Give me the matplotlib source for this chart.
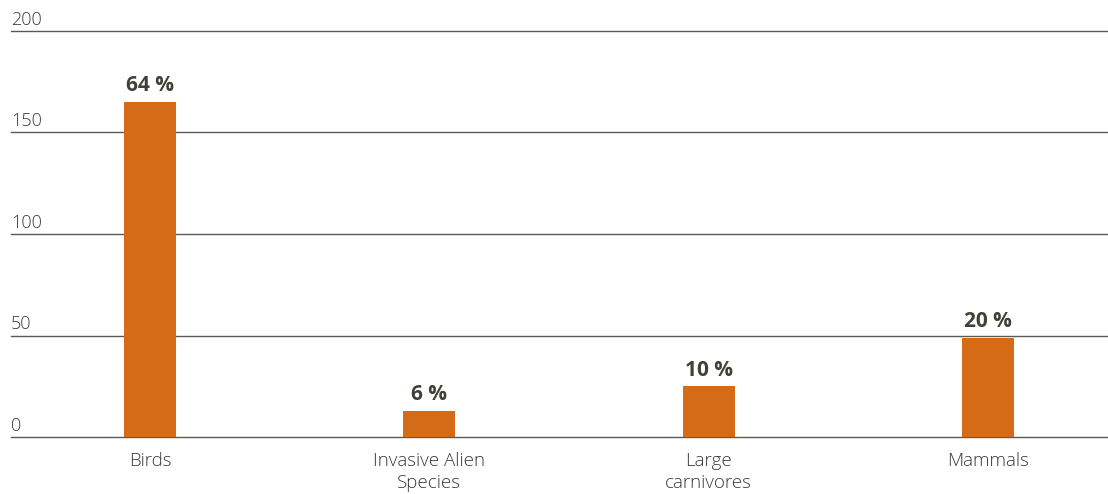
import matplotlib.pyplot as plt
from matplotlib.transforms import blended_transform_factory, offset_copy

# data
categories = ["Birds", "Invasive Alien\nSpecies", "Large\ncarnivores", "Mammals"]
values = [165, 13, 25, 49]
shares = ["64 %", "6 %", "10 %", "20 %"]
yticks = [0, 50, 100, 150, 200]

plt.rcParams['font.family'] = ['Open Sans', 'DejaVu Sans']

fig = plt.figure(figsize=(11.08, 4.94), dpi=100)
ax = fig.add_axes([11 / 1108, 1 - 437 / 494, 1 - 11 / 1108, 406 / 494])

x = list(range(len(categories)))
ax.bar(x, values, width=0.186, color="#D56A17", zorder=3)

ax.set_xlim(-0.498, 3.43)
ax.set_ylim(0, 200)

# gridlines
for t in yticks:
    ax.axhline(t, color="#5a5a50", lw=1.0, zorder=1, clip_on=False)

# y labels sit above each gridline
trans = blended_transform_factory(ax.transAxes, ax.transData)
for t in yticks:
    ax.text(0.0, t, str(t), transform=offset_copy(trans, fig=fig, x=0, y=1.5, units='points'),
            ha='left', va='bottom', fontsize=13, color="#3a3a3a", fontweight='light')

# share labels on top of bars
for xi, v, s in zip(x, values, shares):
    ax.annotate(s, (xi, v), xytext=(0, 4), textcoords='offset points',
                ha='center', va='bottom', fontsize=15, fontweight='bold', color="#404236")

ax.set_xticks(x)
ax.set_xticklabels(categories, fontsize=13.5, color="#3a3a3a", linespacing=1.3,
                   fontweight='light')
ax.tick_params(axis='x', length=0, pad=11)
ax.set_yticks([])

for sp in ax.spines.values():
    sp.set_visible(False)

fig.savefig("out.png", dpi=100)
